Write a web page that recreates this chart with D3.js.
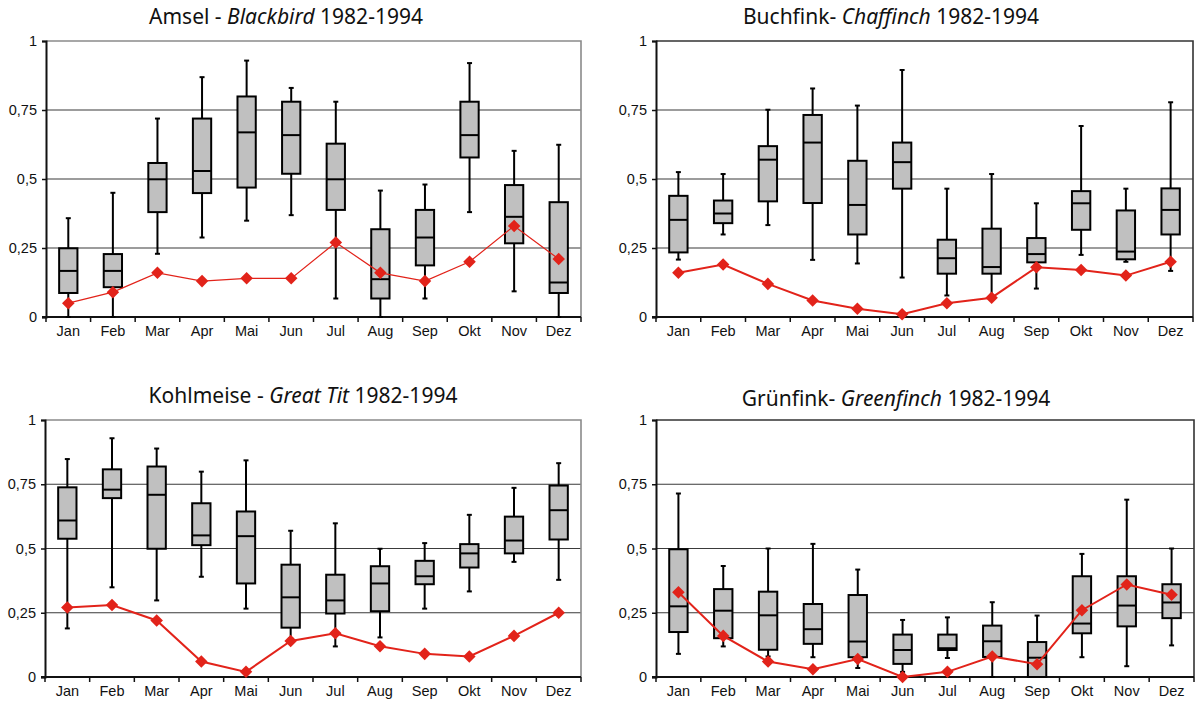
<!DOCTYPE html>
<html>
<head>
<meta charset="utf-8">
<script src="https://cdn.jsdelivr.net/npm/d3@7"></script>
<style>
  body { margin: 0; background: #fff; }
  svg { display: block; font-family: "Noto Sans", sans-serif; }
  .title { font-size: 21px; fill: #111; }
  .tick-label { font-size: 14.5px; fill: #111; }
</style>
</head>
<body>
<svg id="chart" width="1196" height="701"></svg>
<script>
const MONTHS = ['Jan', 'Feb', 'Mar', 'Apr', 'Mai', 'Jun', 'Jul', 'Aug', 'Sep', 'Okt', 'Nov', 'Dez'];
const Y_TICKS = [0, 0.25, 0.5, 0.75, 1];

// [low whisker, q1, median, q3, high whisker] per month
const amselBoxes = [
  [0, 0.087, 0.167, 0.249, 0.358], [0, 0.108, 0.167, 0.228, 0.45],
  [0.229, 0.38, 0.499, 0.558, 0.719], [0.288, 0.449, 0.529, 0.719, 0.869],
  [0.349, 0.469, 0.669, 0.799, 0.929], [0.369, 0.519, 0.659, 0.78, 0.83],
  [0.067, 0.388, 0.499, 0.628, 0.78], [0, 0.067, 0.137, 0.318, 0.458],
  [0.067, 0.187, 0.288, 0.388, 0.48], [0.38, 0.578, 0.659, 0.78, 0.92],
  [0.093, 0.267, 0.363, 0.478, 0.602], [0, 0.087, 0.125, 0.416, 0.624]
];
const amselLine = [0.05, 0.09, 0.16, 0.13, 0.14, 0.14, 0.27, 0.16, 0.13, 0.2, 0.33, 0.21];

const buchfinkBoxes = [
  [0.208, 0.234, 0.352, 0.439, 0.525], [0.299, 0.34, 0.375, 0.422, 0.518],
  [0.333, 0.419, 0.57, 0.619, 0.751], [0.207, 0.413, 0.632, 0.732, 0.828],
  [0.194, 0.299, 0.406, 0.566, 0.766], [0.143, 0.465, 0.561, 0.632, 0.895],
  [0.078, 0.157, 0.213, 0.28, 0.465], [0.08, 0.157, 0.181, 0.32, 0.518],
  [0.103, 0.198, 0.228, 0.286, 0.412], [0.225, 0.316, 0.412, 0.456, 0.692],
  [0.2, 0.209, 0.237, 0.386, 0.465], [0.167, 0.299, 0.388, 0.466, 0.778]
];
const buchfinkLine = [0.16, 0.19, 0.12, 0.06, 0.03, 0.01, 0.05, 0.07, 0.18, 0.17, 0.15, 0.2];

const kohlmeiseBoxes = [
  [0.189, 0.538, 0.609, 0.738, 0.848], [0.349, 0.696, 0.729, 0.808, 0.929],
  [0.298, 0.499, 0.709, 0.819, 0.889], [0.39, 0.513, 0.551, 0.676, 0.799],
  [0.266, 0.364, 0.548, 0.644, 0.843], [0.15, 0.192, 0.31, 0.437, 0.569],
  [0.119, 0.247, 0.298, 0.398, 0.598], [0.154, 0.256, 0.364, 0.431, 0.499],
  [0.266, 0.361, 0.392, 0.452, 0.521], [0.333, 0.426, 0.481, 0.517, 0.631],
  [0.448, 0.481, 0.531, 0.624, 0.736], [0.378, 0.535, 0.649, 0.745, 0.832]
];
const kohlmeiseLine = [0.27, 0.28, 0.22, 0.06, 0.02, 0.14, 0.17, 0.12, 0.09, 0.08, 0.16, 0.25];

const gruenfinkBoxes = [
  [0.09, 0.175, 0.275, 0.497, 0.714], [0.119, 0.151, 0.258, 0.342, 0.432],
  [0.08, 0.106, 0.24, 0.332, 0.5], [0.077, 0.129, 0.186, 0.284, 0.518],
  [0.035, 0.077, 0.138, 0.319, 0.418], [0.02, 0.051, 0.105, 0.165, 0.222],
  [0.074, 0.105, 0.112, 0.165, 0.232], [0, 0.078, 0.139, 0.2, 0.291],
  [0, 0, 0.075, 0.136, 0.239], [0.077, 0.17, 0.208, 0.392, 0.479],
  [0.042, 0.197, 0.278, 0.392, 0.69], [0.123, 0.229, 0.29, 0.361, 0.5]
];
const gruenfinkLine = [0.33, 0.16, 0.06, 0.03, 0.07, 0, 0.02, 0.08, 0.05, 0.26, 0.36, 0.32];

// title parts: [german, english, years]
const titles = [
  ['Amsel - ', 'Blackbird', ' 1982-1994'],
  ['Buchfink- ', 'Chaffinch', ' 1982-1994'],
  ['Kohlmeise - ', 'Great Tit', ' 1982-1994'],
  ['Grünfink- ', 'Greenfinch', ' 1982-1994']
];

// layout of the four panels
const panels = [
  {left: 46, right: 581, top: 41, bottom: 317, tx: 286, ty: 24, boxes: amselBoxes, line: amselLine, lineWidth: 1.2, border: '#8a8a8a'},
  {left: 656, right: 1193, top: 41, bottom: 317, tx: 891, ty: 24, boxes: buchfinkBoxes, line: buchfinkLine, lineWidth: 2, border: '#333'},
  {left: 45, right: 581, top: 420, bottom: 677, tx: 303, ty: 403, boxes: kohlmeiseBoxes, line: kohlmeiseLine, lineWidth: 2, border: '#8a8a8a'},
  {left: 656, right: 1194, top: 420, bottom: 677, tx: 896, ty: 406, boxes: gruenfinkBoxes, line: gruenfinkLine, lineWidth: 2, border: '#333'}
];

const RED = '#e2231a';
const BOX_FILL = '#c0c0c0';

const locale = d3.formatLocale({decimal: ',', thousands: '.', grouping: [3], currency: ['', '€']});
const fmt = locale.format('~g');

const svg = d3.select('#chart');

panels.forEach((p, i) => {
  const g = svg.append('g');
  const x = d3.scaleBand().domain(MONTHS).range([p.left, p.right]);
  const y = d3.scaleLinear().domain([0, 1]).range([p.bottom, p.top]);
  const bw = x.bandwidth() * 0.41;

  // title
  const t = g.append('text').attr('class', 'title')
    .attr('x', p.tx).attr('y', p.ty).attr('text-anchor', 'middle');
  t.append('tspan').text(titles[i][0]);
  t.append('tspan').attr('font-style', 'italic').text(titles[i][1]);
  t.append('tspan').text(titles[i][2]);

  // gridlines
  g.selectAll('.grid').data([0.25, 0.5, 0.75]).join('line')
    .attr('x1', p.left).attr('x2', p.right)
    .attr('y1', d => y(d)).attr('y2', d => y(d))
    .attr('stroke', '#3a3a3a').attr('stroke-width', 1.2);

  // top and right border
  g.append('path')
    .attr('d', `M${p.left},${y(1)}H${p.right}V${y(0)}`)
    .attr('fill', 'none').attr('stroke', p.border).attr('stroke-width', 1.6);

  // y axis
  const yAxis = g.append('g').attr('transform', `translate(${p.left},0)`)
    .call(d3.axisLeft(y).tickValues(Y_TICKS).tickFormat(fmt).tickSize(4).tickPadding(5));
  yAxis.select('.domain').attr('stroke', '#111').attr('stroke-width', 2);
  yAxis.selectAll('.tick line').attr('stroke', '#111').attr('stroke-width', 1.5);
  yAxis.selectAll('.tick text').attr('class', 'tick-label').attr('font-family', null).attr('font-size', null);

  // x axis: labels centred on bands, ticks on band boundaries
  const xAxis = g.append('g').attr('transform', `translate(0,${p.bottom})`)
    .call(d3.axisBottom(x).tickSize(0).tickPadding(9));
  xAxis.select('.domain').remove();
  xAxis.selectAll('.tick text').attr('class', 'tick-label').attr('font-family', null).attr('font-size', null);
  g.append('line')
    .attr('x1', p.left - 4).attr('x2', p.right)
    .attr('y1', p.bottom).attr('y2', p.bottom)
    .attr('stroke', '#111').attr('stroke-width', 2);
  const bounds = MONTHS.map(m => x(m)).concat([p.right]);
  g.selectAll('.xtick').data(bounds).join('line')
    .attr('x1', d => d).attr('x2', d => d)
    .attr('y1', p.bottom).attr('y2', p.bottom + 5)
    .attr('stroke', '#111').attr('stroke-width', 1.5);

  // box plots
  const boxG = g.selectAll('.box').data(p.boxes).join('g')
    .attr('transform', (d, j) => `translate(${x(MONTHS[j]) + x.bandwidth() / 2},0)`);
  boxG.append('line')
    .attr('y1', d => y(d[0])).attr('y2', d => y(d[4]))
    .attr('stroke', '#000').attr('stroke-width', 2);
  boxG.selectAll('.cap').data(d => [d[0], d[4]]).join('line')
    .attr('x1', -2.5).attr('x2', 2.5)
    .attr('y1', d => y(d)).attr('y2', d => y(d))
    .attr('stroke', '#000').attr('stroke-width', 2);
  boxG.append('rect')
    .attr('x', -bw / 2).attr('width', bw)
    .attr('y', d => y(d[3])).attr('height', d => y(d[1]) - y(d[3]))
    .attr('fill', BOX_FILL).attr('stroke', '#000').attr('stroke-width', 2);
  boxG.append('line')
    .attr('x1', -bw / 2).attr('x2', bw / 2)
    .attr('y1', d => y(d[2])).attr('y2', d => y(d[2]))
    .attr('stroke', '#000').attr('stroke-width', 2);

  // red line with diamonds
  const line = d3.line()
    .x((d, j) => x(MONTHS[j]) + x.bandwidth() / 2)
    .y(d => y(d));
  g.append('path').datum(p.line)
    .attr('d', line).attr('fill', 'none')
    .attr('stroke', RED).attr('stroke-width', p.lineWidth);
  const diamond = d3.symbol().type(d3.symbolDiamond2).size(100);
  g.selectAll('.dot').data(p.line).join('path')
    .attr('d', diamond)
    .attr('transform', (d, j) => `translate(${x(MONTHS[j]) + x.bandwidth() / 2},${y(d)})`)
    .attr('fill', RED);
});
</script>
</body>
</html>
